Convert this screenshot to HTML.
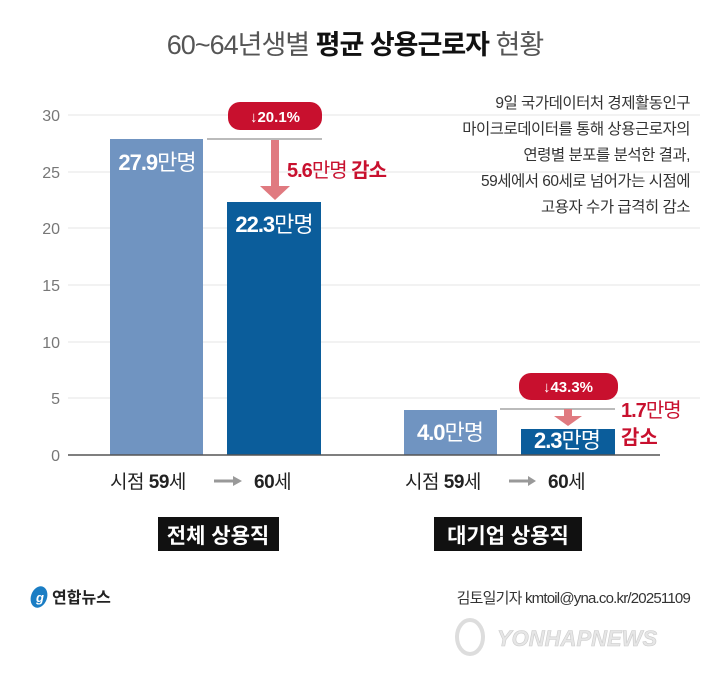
<!DOCTYPE html>
<html><head><meta charset="utf-8"><style>
body{margin:0;background:#fff;}
svg{display:block;font-family:"Liberation Sans","Noto Sans CJK KR",sans-serif;}
</style></head><body>
<svg width="710" height="680" viewBox="0 0 710 680" xmlns="http://www.w3.org/2000/svg">
<rect width="710" height="680" fill="#fff"/>
<text x="355" y="54" text-anchor="middle" font-size="27" fill="#555" letter-spacing="-1">60~64년생별 <tspan font-weight="bold" fill="#111">평균 상용근로자</tspan> 현황</text>
<g stroke="#e4e4e4" stroke-width="1">
<line x1="68" y1="115" x2="700" y2="115"/><line x1="68" y1="172" x2="700" y2="172"/>
<line x1="68" y1="228" x2="700" y2="228"/><line x1="68" y1="285" x2="700" y2="285"/>
<line x1="68" y1="342" x2="700" y2="342"/><line x1="68" y1="398" x2="700" y2="398"/>
</g>
<g font-size="16" fill="#777" text-anchor="end">
<text x="60" y="121">30</text><text x="60" y="178">25</text><text x="60" y="234">20</text>
<text x="60" y="291">15</text><text x="60" y="348">10</text><text x="60" y="404">5</text><text x="60" y="461">0</text>
</g>
<rect x="110" y="139" width="93" height="316" fill="#7094c1"/>
<rect x="227" y="202" width="94" height="253" fill="#0b5d9b"/>
<rect x="404" y="410" width="93" height="45" fill="#7094c1"/>
<rect x="521" y="429" width="94" height="26" fill="#0b5d9b"/>
<line x1="68" y1="455" x2="660" y2="455" stroke="#555" stroke-width="1.5"/>
<g fill="#fff" font-size="22" text-anchor="middle" letter-spacing="-1">
<text x="157" y="170"><tspan font-weight="bold">27.9</tspan>만명</text>
<text x="274" y="232"><tspan font-weight="bold">22.3</tspan>만명</text>
<text x="450" y="440"><tspan font-weight="bold">4.0</tspan>만명</text>
<text x="567" y="448"><tspan font-weight="bold">2.3</tspan>만명</text>
</g>
<line x1="207" y1="139" x2="322" y2="139" stroke="#777" stroke-width="1"/>
<rect x="228" y="102" width="94" height="28" rx="12" fill="#c8102e"/>
<text x="275" y="122" text-anchor="middle" fill="#fff" font-size="15" font-weight="bold">↓20.1%</text>
<rect x="271" y="140" width="8" height="47" fill="#e07a80"/>
<polygon points="260,186 290,186 275,200" fill="#e07a80"/>
<text x="287" y="177" fill="#c8102e" font-size="20" font-weight="bold" letter-spacing="-1">5.6<tspan font-weight="normal">만명</tspan> 감소</text>
<line x1="500" y1="409" x2="615" y2="409" stroke="#777" stroke-width="1"/>
<rect x="519" y="373" width="99" height="27" rx="12" fill="#c8102e"/>
<text x="568" y="392" text-anchor="middle" fill="#fff" font-size="15" font-weight="bold">↓43.3%</text>
<rect x="564" y="409" width="8" height="8" fill="#e07a80"/>
<polygon points="554,416 582,416 568,426" fill="#e07a80"/>
<text x="621" y="417" fill="#c8102e" font-size="20" letter-spacing="-1"><tspan font-weight="bold">1.7</tspan>만명</text>
<text x="621" y="444" fill="#c8102e" font-size="20" font-weight="bold">감소</text>
<g font-size="15.5" fill="#333" text-anchor="end" letter-spacing="-0.5">
<text x="690" y="108">9일 국가데이터처 경제활동인구</text>
<text x="690" y="134">마이크로데이터를 통해 상용근로자의</text>
<text x="690" y="160">연령별 분포를 분석한 결과,</text>
<text x="690" y="186">59세에서 60세로 넘어가는 시점에</text>
<text x="690" y="212">고용자 수가 급격히 감소</text>
</g>
<g font-size="19" fill="#222" letter-spacing="-0.5">
<text x="110" y="488">시점 <tspan font-weight="bold">59</tspan>세</text>
<text x="254" y="488"><tspan font-weight="bold">60</tspan>세</text>
<text x="405" y="488">시점 <tspan font-weight="bold">59</tspan>세</text>
<text x="548" y="488"><tspan font-weight="bold">60</tspan>세</text>
</g>
<g stroke="#999" stroke-width="3" fill="#999">
<line x1="214" y1="481" x2="234" y2="481"/><polygon points="233,476 242,481 233,486" stroke="none"/>
<line x1="509" y1="481" x2="528" y2="481"/><polygon points="528,476 536,481 528,486" stroke="none"/>
</g>
<rect x="158" y="517" width="121" height="34" fill="#111"/>
<text x="218" y="543" text-anchor="middle" fill="#fff" font-size="21" font-weight="bold">전체 상용직</text>
<rect x="434" y="517" width="148" height="34" fill="#111"/>
<text x="508" y="543" text-anchor="middle" fill="#fff" font-size="21" font-weight="bold">대기업 상용직</text>
<ellipse cx="39" cy="597" rx="8" ry="11" fill="#1a7dc4" transform="rotate(20 39 597)"/>
<text x="36" y="602" fill="#fff" font-size="13" font-style="italic" font-weight="bold">g</text>
<text x="52" y="603" font-size="16" font-weight="bold" fill="#222">연합뉴스</text>
<text x="690" y="603" text-anchor="end" font-size="15" fill="#333" letter-spacing="-0.8">김토일기자 kmtoil@yna.co.kr/20251109</text>
<ellipse cx="470" cy="637" rx="13" ry="17" fill="none" stroke="#ddd" stroke-width="4"/>
<text x="497" y="646" font-size="22" font-weight="bold" font-style="italic" fill="#e6e6e6" stroke="#ccc" stroke-width="0.6">YONHAPNEWS</text>
</svg>
</body></html>
